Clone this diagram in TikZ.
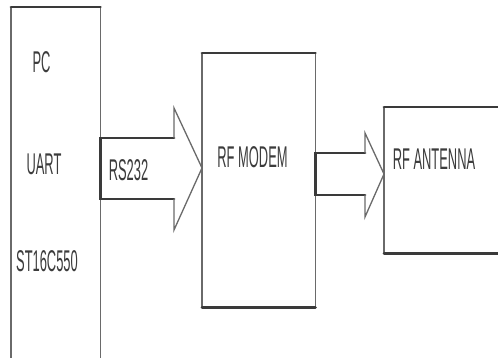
\documentclass[tikz,border=0pt]{standalone}
\usepackage{fontspec}
\usepackage{graphicx}
\setmainfont{Liberation Sans}
\usetikzlibrary{calc}
\definecolor{edgedark}{HTML}{3A3A3A}
\definecolor{edgelight}{HTML}{6A6A6A}
\definecolor{labelgray}{HTML}{3C3C3C}
% narrow, tall lettering
\newcommand{\narrowtext}[1]{\scalebox{0.43}[1]{#1}}
\tikzset{
  heavy/.style={draw=edgedark, line width=2.8pt, line cap=round},
  light/.style={draw=edgelight, line width=1.3pt},
  blockbox/.style={draw=none, inner sep=0pt, anchor=north west},
  lbl/.style={text=labelgray, inner sep=0pt, font=\fontsize{30}{30}\selectfont}
}
\begin{document}
\begin{tikzpicture}[x=1pt, y=-1pt]
\useasboundingbox (0,0) rectangle (498,358);
\clip (0,0) rectangle (498,358);
\fill[white] (0,0) rectangle (498,358);

% blocks
\node[blockbox, minimum width=89pt, minimum height=360pt] (pc) at (11,7) {};
\node[blockbox, minimum width=113pt, minimum height=254pt] (modem) at (202,53) {};
\node[blockbox, minimum width=130pt, minimum height=146pt] (antenna) at (384,107) {};

% PC block
\draw[light] (pc.north west) -- (pc.south west);
\draw[light] (pc.north east) -- (pc.south east);
\draw[heavy] (pc.north west) -- (pc.north east);

% RF modem block
\draw[light] (modem.north west) -- (modem.south west);
\draw[light] (modem.north east) -- (modem.south east);
\draw[heavy] (modem.north west) -- (modem.north east);
\draw[heavy] (modem.south west) -- (modem.south east);

% RF antenna block
\draw[light] (antenna.north west) -- (antenna.south west);
\draw[heavy] (antenna.north west) -- (antenna.north east);
\draw[heavy] (antenna.south west) -- (antenna.south east);

% RS232 arrow: PC -> RF modem
\coordinate (a1s1) at (pc.east |- 0,138);
\coordinate (a1s2) at (pc.east |- 0,199);
\coordinate (a1tip) at (modem.west |- 0,168);
\draw[heavy] (174,138) -- (a1s1) -- (a1s2) -- (174,199);
\draw[light, line join=miter] (174,138) -- (174,108) -- (a1tip) -- (174,230) -- (174,199);

% arrow: RF modem -> RF antenna
\coordinate (a2s1) at (modem.east |- 0,153);
\coordinate (a2s2) at (modem.east |- 0,195);
\coordinate (a2tip) at (antenna.west |- 0,174);
\draw[heavy] (365,153) -- (a2s1) -- (a2s2) -- (365,195);
\draw[light, line join=miter] (365,153) -- (365,133) -- (a2tip) -- (365,217) -- (365,195);

% labels
\node[lbl] (pcname) at (41.5,62) {\narrowtext{PC}};
\node[lbl] (uart) at (44,164) {\narrowtext{UART}};
\node[lbl] (chip) at (47,261) {\narrowtext{ST16C550}};
\node[lbl] (rs) at (128.5,170) {\narrowtext{RS232}};
\node[lbl] (modemname) at (252.5,157) {\narrowtext{RF MODEM}};
\node[lbl] (antname) at (434,159) {\narrowtext{RF ANTENNA}};
\end{tikzpicture}
\end{document}
